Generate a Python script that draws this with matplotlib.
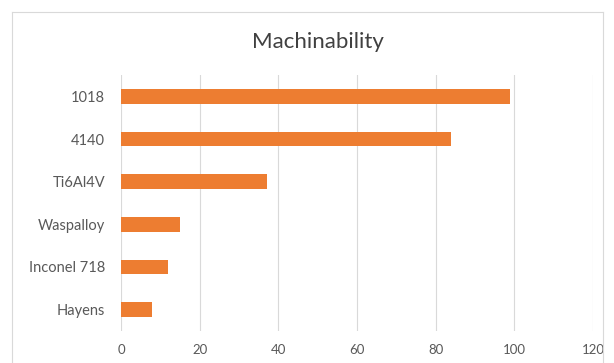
import matplotlib
matplotlib.use("Agg")
import matplotlib.pyplot as plt
from matplotlib.lines import Line2D

categories = ["1018", "4140", "Ti6Al4V", "Waspalloy", "Inconel 718", "Hayens"]
values = [99, 84, 37, 15, 12, 8]
xticks = [0, 20, 40, 60, 80, 100, 120]
title = "Machinability"

plt.rcParams['font.family'] = ['Lato', 'DejaVu Sans']

W, H = 614, 363
fig = plt.figure(figsize=(W/100, H/100), dpi=100)
fig.patch.set_facecolor("white")
ax = fig.add_axes([121/W, 1-331/H, (593-121)/W, (331-75)/H])

ypos = list(range(len(categories)))
ax.barh(ypos, values, height=0.34, color="#ED7D31", zorder=3)
ax.set_ylim(len(categories)-0.5, -0.5)
ax.set_xlim(0, 120)
ax.set_xticks(xticks)
ax.set_xticklabels([str(t) for t in xticks])
ax.set_yticks(ypos)
ax.set_yticklabels(categories)
ax.grid(axis="x", color="#D9D9D9", linewidth=0.8, zorder=0)
for s in ax.spines.values():
    s.set_visible(False)
ax.tick_params(axis="both", length=0, colors="#595959")
ax.tick_params(axis="y", pad=11.5, labelsize=10.5)
ax.tick_params(axis="x", pad=9, labelsize=9.5)

fig.text(318/W, 1-48/H, title, ha="center", va="baseline", fontsize=16, color="#404040")

# chart border (top, left, right)
bc = "#D9D9D9"
fig.add_artist(Line2D([12/W, 603/W], [1-12/H, 1-12/H], transform=fig.transFigure, color=bc, lw=0.8))
fig.add_artist(Line2D([12/W, 12/W], [1-12/H, 0], transform=fig.transFigure, color=bc, lw=0.8))
fig.add_artist(Line2D([603/W, 603/W], [1-12/H, 0], transform=fig.transFigure, color=bc, lw=0.8))

fig.savefig("out.png", dpi=100, facecolor="white")
